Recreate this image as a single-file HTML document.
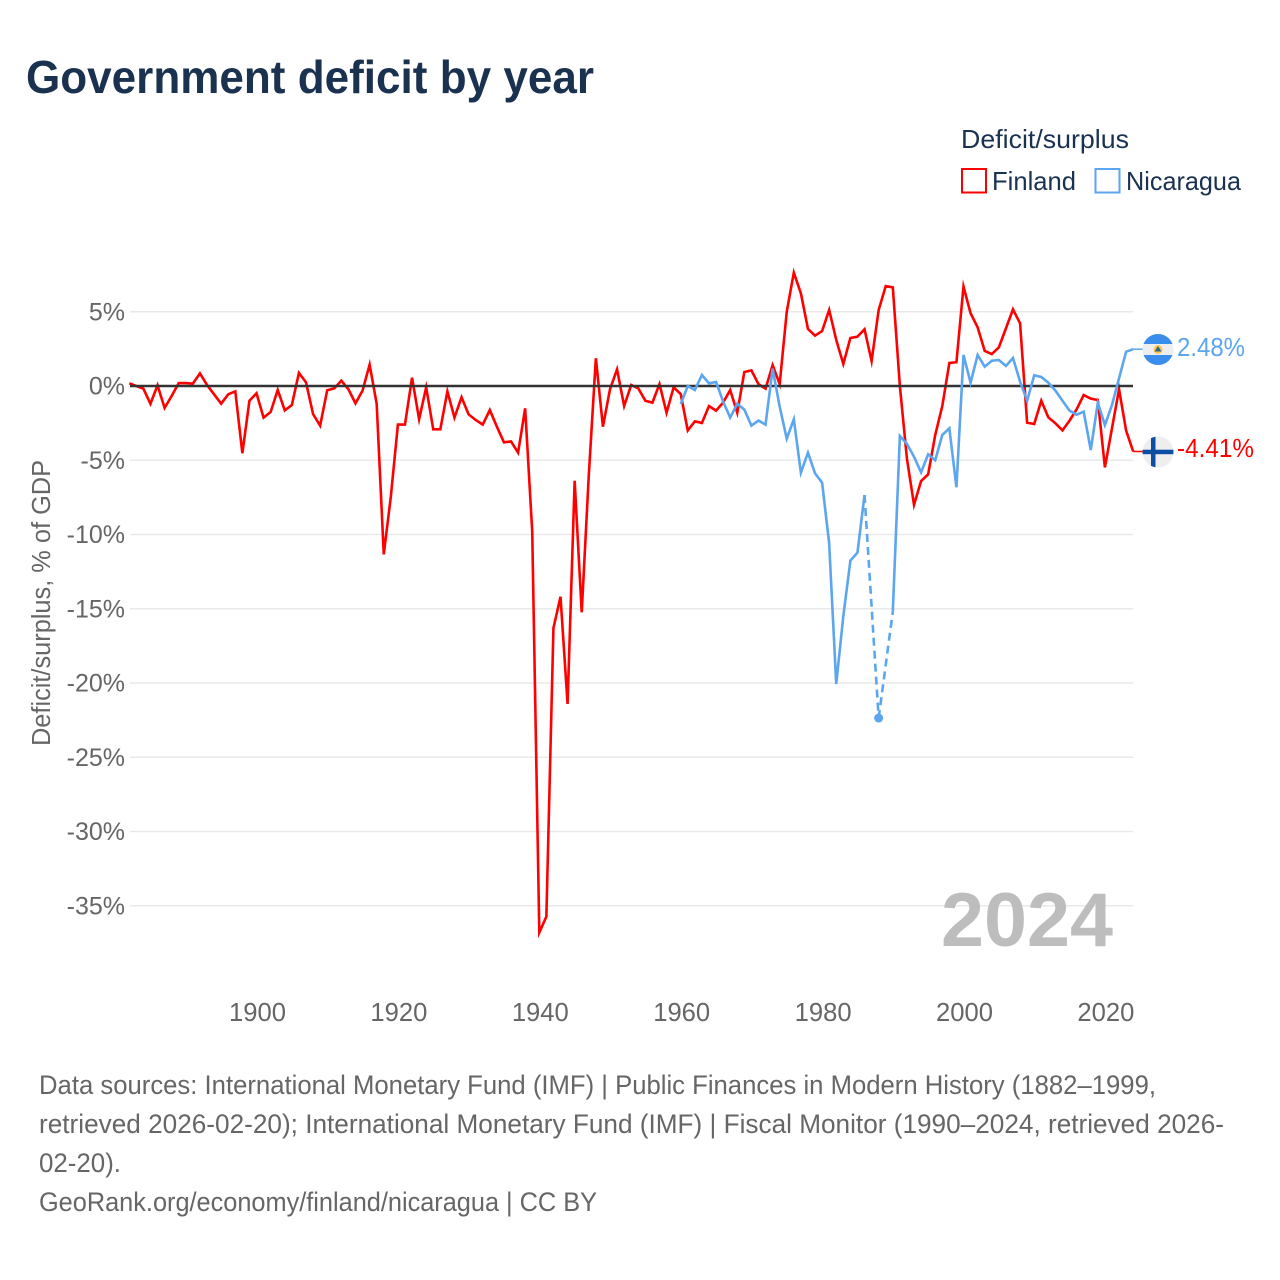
<!DOCTYPE html>
<html lang="en">
<head>
<meta charset="utf-8">
<title>Government deficit by year</title>
<style>
html,body{margin:0;padding:0;background:#fff;width:1280px;height:1280px;overflow:hidden}
svg{display:block;font-family:"Liberation Sans",sans-serif}
</style>
</head>
<body>
<svg id="chart" xmlns="http://www.w3.org/2000/svg" width="1280" height="1280" viewBox="0 0 1280 1280">
  <rect width="1280" height="1280" fill="#fff"/>
  <text x="26" y="93" font-size="46" font-weight="700" fill="#1a3150" textLength="568" lengthAdjust="spacingAndGlyphs">Government deficit by year</text>

  <g>
    <text x="961" y="148" font-size="26" fill="#1a3150" textLength="168" lengthAdjust="spacingAndGlyphs">Deficit/surplus</text>
    <rect x="962" y="169" width="24" height="23.5" fill="#fff" stroke="#ff0000" stroke-width="2"/>
    <text x="992" y="190" font-size="26" fill="#1a3150" textLength="84" lengthAdjust="spacingAndGlyphs">Finland</text>
    <rect x="1095.5" y="169" width="24" height="23.5" fill="#fff" stroke="#5ca5ef" stroke-width="2"/>
    <text x="1126" y="190" font-size="26" fill="#1a3150" textLength="115" lengthAdjust="spacingAndGlyphs">Nicaragua</text>
  </g>

  <g id="grid"></g>
  <g id="yticks"></g>
  <g id="xticks"></g>
  <text transform="translate(50,603) rotate(-90)" text-anchor="middle" font-size="25.5" fill="#666" textLength="286" lengthAdjust="spacingAndGlyphs">Deficit/surplus, % of GDP</text>

  <text x="941" y="946" font-size="76" font-weight="700" fill="#bdbdbd" textLength="172" lengthAdjust="spacingAndGlyphs">2024</text>

  <g id="series"></g>

  <g>
    <clipPath id="clip-ni"><circle cx="1158" cy="349.5" r="15.5"/></clipPath>
    <g clip-path="url(#clip-ni)">
      <rect x="1142" y="334" width="32" height="31" fill="#eeeeee"/>
      <rect x="1142" y="334" width="32" height="10" fill="#3a8ded"/>
      <rect x="1142" y="355" width="32" height="10" fill="#3a8ded"/>
      <circle cx="1158" cy="349.5" r="4.5" fill="#f9c74f"/>
      <path d="M1158 346 L1161.5 351.5 L1154.5 351.5 Z" fill="#33658a"/>
    </g>
  </g>
  <g>
    <clipPath id="clip-fi"><circle cx="1158" cy="452" r="15.5"/></clipPath>
    <g clip-path="url(#clip-fi)">
      <rect x="1142" y="436" width="32" height="32" fill="#eeeeee"/>
      <rect x="1151" y="436" width="4.5" height="32" fill="#0b4ea2"/>
      <rect x="1142" y="449.7" width="32" height="4.5" fill="#0b4ea2"/>
    </g>
  </g>
  <text x="1177" y="356" font-size="26" fill="#5ca5ef" textLength="68" lengthAdjust="spacingAndGlyphs">2.48%</text>
  <text x="1177" y="457" font-size="26" fill="#ff0000" textLength="77" lengthAdjust="spacingAndGlyphs">-4.41%</text>

  <g font-size="26.5" fill="#666">
    <text x="39" y="1094" textLength="1117" lengthAdjust="spacingAndGlyphs">Data sources: International Monetary Fund (IMF) | Public Finances in Modern History (1882–1999,</text>
    <text x="39" y="1133" textLength="1185" lengthAdjust="spacingAndGlyphs">retrieved 2026-02-20); International Monetary Fund (IMF) | Fiscal Monitor (1990–2024, retrieved 2026-</text>
    <text x="39" y="1172" textLength="82" lengthAdjust="spacingAndGlyphs">02-20).</text>
    <text x="39" y="1211" textLength="558" lengthAdjust="spacingAndGlyphs">GeoRank.org/economy/finland/nicaragua | CC BY</text>
  </g>
</svg>
<script>
const firstYearFinland = 1882;
const firstYearNicaragua = 1960;
const finlandValues = [
  0.18,0,-0.18,-1.2,0.05,-1.48,-0.67,0.2,0.2,0.16,0.85,0.07,-0.56,-1.19,-0.56,-0.36,-4.53,-0.99,
  -0.49,-2.13,-1.75,-0.27,-1.64,-1.28,0.88,0.25,-1.89,-2.67,-0.29,-0.16,0.36,-0.22,-1.17,-0.31,1.44,-1.21,-11.34,-7.45,
  -2.6,-2.6,0.56,-2.24,-0.09,-2.92,-2.92,-0.36,-2.13,-0.76,-1.91,-2.29,-2.6,-1.62,-2.74,-3.79,-3.73,-4.49,-1.5,-9.81,
  -36.8,-35.73,-16.3,-14.19,-21.41,-6.38,-15.24,-6,1.87,-2.74,-0.22,1.12,-1.35,0.07,-0.16,-0.99,-1.12,0.13,-1.8,-0.09,
  -0.54,-3,-2.38,-2.49,-1.35,-1.66,-1.12,-0.27,-1.8,0.94,1.05,0.13,-0.18,1.41,0.13,5,7.63,6.24,3.84,3.39,
  3.7,5.12,3.1,1.48,3.23,3.32,3.82,1.68,5.12,6.73,6.64,0,-4.9,-8,-6.4,-5.95,-3.3,-1.35,1.55,1.6,
  6.7,4.9,3.95,2.36,2.15,2.6,3.88,5.16,4.22,-2.47,-2.56,-0.99,-2.11,-2.51,-2.99,-2.33,-1.57,-0.61,-0.85,-0.94,
  -5.48,-2.85,-0.22,-3,-4.41
];
const nicaraguaValues = [
  -1.21,0,-0.27,0.74,0.18,0.27,-1.05,-2.13,-1.19,-1.59,-2.67,-2.33,-2.6,1.17,-1.39,-3.55,-2.24,-5.84,-4.49,-5.88,
  -6.51,-10.6,-20.07,-15.5,-11.76,-11.22,-7.34,null,-22.36,null,-15.2,-3.37,-3.9,-4.76,-5.82,-4.6,-5,-3.3,-2.85,-6.82,
  2.09,0.22,2.09,1.3,1.7,1.75,1.35,1.89,0.3,-0.99,0.72,0.61,0.22,-0.31,-0.99,-1.66,-1.93,-1.73,-4.31,-1.12,
  -2.63,-1.28,0.52,2.31,2.48
];
const yTickValues = [5,0,-5,-10,-15,-20,-25,-30,-35];
const yTickLabels = ["5%","0%","-5%","-10%","-15%","-20%","-25%","-30%","-35%"];
const xTickYears = [1900,1920,1940,1960,1980,2000,2020];
const xTickLabels = ["1900","1920","1940","1960","1980","2000","2020"];

const SVG_NS = "http://www.w3.org/2000/svg";
const xScale = function (year) { return 539.3 + 7.07 * (year - 1940); };
const yScale = function (value) { return 386 - 14.85 * value; };
const plotLeft = 130;
const plotRight = 1133;
const connectorEnd = 1143;

function make(tag, attrs, parent) {
  const el = document.createElementNS(SVG_NS, tag);
  for (const k in attrs) el.setAttribute(k, attrs[k]);
  parent.appendChild(el);
  return el;
}

const grid = document.getElementById("grid");
const yticks = document.getElementById("yticks");
const xticks = document.getElementById("xticks");
const seriesGroup = document.getElementById("series");

yTickValues.forEach(function (v, i) {
  if (v !== 0) {
    const g = make("line", {x1: plotLeft, x2: plotRight, y1: yScale(v), y2: yScale(v), stroke: "#e9e9e9", "stroke-width": 1.5}, grid);
    
    
  }
  const t = make("text", {x: 125, y: yScale(v) + 8.5, "text-anchor": "end", "font-size": 25, fill: "#666"}, yticks);
  t.textContent = yTickLabels[i];
  
  
});

xTickYears.forEach(function (yr, i) {
  const t = make("text", {x: xScale(yr) + 1, y: 1021, "text-anchor": "middle", "font-size": 25.6, fill: "#666"}, xticks);
  t.textContent = xTickLabels[i];
  
  
});

function drawSeries(values, startYear, color, name) {
  const pts = values.map(function (v, i) { return {x: xScale(startYear + i), v: v}; });
  let run = [];
  let lastValid = null;
  function flush() {
    if (run.length > 1) {
      const solid = make("polyline", {
        points: run.map(function (p) { return p.x + "," + yScale(p.v); }).join(" "),
        fill: "none", stroke: color, "stroke-width": 2.6, "stroke-linejoin": "miter", "stroke-miterlimit": 6
      }, seriesGroup);
      
      
    } else if (run.length === 1) {
      const dot = make("circle", {cx: run[0].x, cy: yScale(run[0].v), r: 4.5, fill: color}, seriesGroup);
      
      
    }
    run = [];
  }
  pts.forEach(function (p, i) {
    if (p.v === null) { flush(); return; }
    if (lastValid !== null && lastValid !== i - 1) {
      const a = pts[lastValid];
      const gap = make("line", {x1: a.x, y1: yScale(a.v), x2: p.x, y2: yScale(p.v), stroke: color, "stroke-width": 2.6, "stroke-dasharray": "8 5"}, seriesGroup);
      
      
    }
    run.push(p);
    lastValid = i;
  });
  flush();
  const last = pts[lastValid];
  const tail = make("line", {x1: last.x, y1: yScale(last.v), x2: connectorEnd, y2: yScale(last.v), stroke: color, "stroke-width": 1.5}, seriesGroup);
  
  
}

drawSeries(finlandValues, firstYearFinland, "#ff0000", "finland");

const zero = make("line", {x1: plotLeft, x2: plotRight, y1: yScale(0), y2: yScale(0), stroke: "#333", "stroke-width": 2.5}, seriesGroup);



drawSeries(nicaraguaValues, firstYearNicaragua, "#5ca5ef", "nicaragua");
</script>
</body>
</html>
